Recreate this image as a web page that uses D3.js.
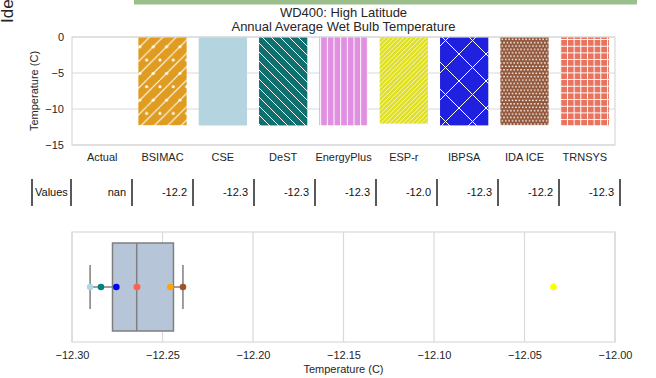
<!DOCTYPE html>
<html>
<head>
<meta charset="utf-8">
<script src="https://cdn.jsdelivr.net/npm/d3@7"></script>
<style>
  body { margin: 0; background: #fff; }
  svg { display: block; font-family: "Liberation Sans", Arial, sans-serif; }
</style>
</head>
<body>
<svg id="chart" width="656" height="378"></svg>
<script>
// data
var categories = ["Actual", "BSIMAC", "CSE", "DeST", "EnergyPlus", "ESP-r", "IBPSA", "IDA ICE", "TRNSYS"]
var values = [NaN, -12.2457, -12.290, -12.284, -12.2645, -12.034, -12.2755, -12.2387, -12.264]
var yTicks = [0, -5, -10, -15]
var xTicks = [-12.30, -12.25, -12.20, -12.15, -12.10, -12.05, -12.00]

// one colour per program (Actual has none)
var colors = [null, "orange", "lightblue", "teal", "violet", "yellow", "blue", "sienna", "tomato"]

function desat(c, p) {
  var h = d3.hsl(c)
  h.s = h.s * p
  return h.formatHex()
}

var SVG = d3.select("#chart")
var ink = "#262626"
var gridCol = "#d9d9d9"

// ---------- hatch patterns ----------
var defs = SVG.append("defs")
function hatch(id, fill, w, h, draw) {
  var p = defs.append("pattern")
    .attr("id", id)
    .attr("patternUnits", "userSpaceOnUse")
    .attr("width", w).attr("height", h)
  p.append("rect").attr("width", w).attr("height", h).attr("fill", fill)
  draw(p, w, h)
}
function slash(p, w, h, s, sw) {
  var d = ""
  for (var x0 = -h; x0 <= w; x0 += s) d += "M" + x0 + "," + h + "L" + (x0 + h) + ",0"
  p.append("path").attr("d", d).attr("stroke", "#fff").attr("stroke-width", sw)
}
function back(p, w, h, s, sw) {
  var d = ""
  for (var x0 = -h; x0 <= w; x0 += s) d += "M" + x0 + ",0L" + (x0 + h) + "," + h
  p.append("path").attr("d", d).attr("stroke", "#fff").attr("stroke-width", sw)
}

var fills = colors.map(function(c) { return c ? desat(c, 0.75) : null })

hatch("h1", fills[1], 13.33, 26.67, function(p, w, h) {
  slash(p, w, h, w, 1)
  p.selectAll("circle").data([[0, w / 2], [w, w / 2], [w / 2, w * 1.5]]).enter()
    .append("circle").attr("cx", function(d) { return d[0] }).attr("cy", function(d) { return d[1] })
    .attr("r", 1.5).attr("fill", "#fff")
})
hatch("h3", fills[3], 9, 9, function(p, w, h) { back(p, w, h, 9, 1) })
hatch("h4", fills[4], 6.67, 10, function(p, w, h) {
  p.append("path").attr("d", "M0.5,0V" + h).attr("stroke", "#fff").attr("stroke-width", 1)
})
hatch("h5", fills[5], 4.5, 4.5, function(p, w, h) { slash(p, w, h, 4.5, 0.8) })
hatch("h6", fills[6], 27, 27, function(p, w, h) { slash(p, w, h, 27, 1); back(p, w, h, 27, 1) })
hatch("h7", fills[7], 3.4, 6.8, function(p, w, h) {
  p.selectAll("circle").data([[0.85, 1.7], [2.55, 5.1]]).enter()
    .append("circle").attr("cx", function(d) { return d[0] }).attr("cy", function(d) { return d[1] })
    .attr("r", 0.85).attr("fill", "#fff")
})
hatch("h8", fills[8], 6.67, 6.67, function(p, w, h) {
  p.append("path").attr("d", "M0.5,0V" + h + "M0," + (h - 0.5) + "H" + w)
    .attr("stroke", "#fff").attr("stroke-width", 1)
})
var patterns = [null, "url(#h1)", fills[2], "url(#h3)", "url(#h4)", "url(#h5)", "url(#h6)", "url(#h7)", "url(#h8)"]

// ---------- top strip & titles ----------
SVG.append("rect").attr("x", 134).attr("y", 0).attr("width", 503).attr("height", 4.5).attr("fill", "#9bbf8b")

SVG.append("text")
  .attr("transform", "translate(13,23) rotate(-90)")
  .attr("font-size", 17).attr("fill", ink)
  .text("Ide")

SVG.append("text").attr("x", 343.5).attr("y", 17).attr("text-anchor", "middle")
  .attr("font-size", 13).attr("fill", ink).text("WD400: High Latitude")
SVG.append("text").attr("x", 343.5).attr("y", 31).attr("text-anchor", "middle")
  .attr("font-size", 13).attr("fill", ink).text("Annual Average Wet Bulb Temperature")

// ---------- bar chart ----------
var x = d3.scaleBand().domain(categories).range([72, 615])
var y = d3.scaleLinear().domain([-15, 0]).range([145, 37])

var gTop = SVG.append("g")
gTop.selectAll("line.grid").data(yTicks).enter().append("line")
  .attr("x1", 72).attr("x2", 615)
  .attr("y1", function(d) { return y(d) }).attr("y2", function(d) { return y(d) })
  .attr("stroke", gridCol).attr("stroke-width", 1.2)

var idx = d3.range(categories.length).filter(function(i) { return !isNaN(values[i]) })
gTop.selectAll("rect.bar").data(idx).enter().append("rect")
  .attr("x", function(i) { return x(categories[i]) + x.bandwidth() * 0.1 })
  .attr("width", x.bandwidth() * 0.8)
  .attr("y", y(0))
  .attr("height", function(i) { return y(values[i]) - y(0) })
  .attr("fill", function(i) { return patterns[i] })

gTop.append("rect").attr("x", 72).attr("y", 37).attr("width", 543).attr("height", 108)
  .attr("fill", "none").attr("stroke", gridCol).attr("stroke-width", 1.2)

var yAxis = gTop.append("g").attr("transform", "translate(72,0)")
  .call(d3.axisLeft(y).tickValues(yTicks).tickSize(0).tickPadding(8).tickFormat(function(d) { return d3.format("d")(d).replace("-", "\u2212") }))
yAxis.select(".domain").remove()
yAxis.selectAll("text").attr("font-size", 11).attr("fill", ink).attr("font-family", null)

var xAxis = gTop.append("g").attr("transform", "translate(0,145)")
  .call(d3.axisBottom(x).tickSize(0).tickPadding(8))
xAxis.select(".domain").remove()
xAxis.selectAll("text").attr("font-size", 11).attr("fill", ink).attr("font-family", null)

SVG.append("text").attr("transform", "translate(38,91) rotate(-90)")
  .attr("text-anchor", "middle").attr("font-size", 11).attr("fill", ink).text("Temperature (C)")

// ---------- table ----------
var tx = d3.scaleBand().domain(categories).range([71, 620])
var table = SVG.append("g").attr("font-family", "'Liberation Sans Narrow', 'Liberation Sans', Arial, sans-serif")
var edges = [32].concat(categories.map(function(c) { return tx(c) })).concat([620])
table.selectAll("line").data(edges).enter().append("line")
  .attr("x1", function(d) { return d }).attr("x2", function(d) { return d })
  .attr("y1", 179).attr("y2", 206)
  .attr("stroke", "#222").attr("stroke-width", 1.5)
table.append("text").attr("x", 35).attr("y", 196).attr("font-size", 11).attr("fill", "#111").text("Values")
table.selectAll("text.val").data(values).enter().append("text")
  .attr("class", "val")
  .attr("x", function(d, i) { return tx(categories[i]) + tx.bandwidth() - 6 })
  .attr("y", 196).attr("text-anchor", "end").attr("font-size", 11).attr("fill", "#111")
  .text(function(d) { return isNaN(d) ? "nan" : d.toFixed(1) })

// ---------- box plot ----------
var bx = d3.scaleLinear().domain([-12.30, -12.00]).range([72, 615])
var by = d3.scaleBand().domain(["all"]).range([232, 342])
var bot = SVG.append("g")

bot.selectAll("line.grid").data(xTicks).enter().append("line")
  .attr("x1", function(d) { return bx(d) }).attr("x2", function(d) { return bx(d) })
  .attr("y1", 232).attr("y2", 342)
  .attr("stroke", gridCol).attr("stroke-width", 1.2)
bot.append("rect").attr("x", 72).attr("y", 232).attr("width", 543).attr("height", 110)
  .attr("fill", "none").attr("stroke", gridCol).attr("stroke-width", 1.2)

var vals = values.filter(function(v) { return !isNaN(v) }).sort(d3.ascending)
var q1 = d3.quantile(vals, 0.25), med = d3.quantile(vals, 0.5), q3 = d3.quantile(vals, 0.75)
var iqr = q3 - q1
var inside = vals.filter(function(v) { return v >= q1 - 1.5 * iqr && v <= q3 + 1.5 * iqr })
var lo = d3.min(inside), hi = d3.max(inside)
var fliers = vals.filter(function(v) { return v < q1 - 1.5 * iqr || v > q3 + 1.5 * iqr })

var cy = by("all") + by.bandwidth() / 2
var bh = by.bandwidth() * 0.8
var boxCol = "#7f7f7f"
bot.append("line").attr("x1", bx(lo)).attr("x2", bx(q1)).attr("y1", cy).attr("y2", cy).attr("stroke", boxCol).attr("stroke-width", 1.5)
bot.append("line").attr("x1", bx(q3)).attr("x2", bx(hi)).attr("y1", cy).attr("y2", cy).attr("stroke", boxCol).attr("stroke-width", 1.5)
bot.selectAll("line.cap").data([lo, hi]).enter().append("line")
  .attr("x1", function(d) { return bx(d) }).attr("x2", function(d) { return bx(d) })
  .attr("y1", cy - bh / 4).attr("y2", cy + bh / 4)
  .attr("stroke", boxCol).attr("stroke-width", 1.5)
bot.append("rect").attr("x", bx(q1)).attr("y", cy - bh / 2).attr("width", bx(q3) - bx(q1)).attr("height", bh)
  .attr("fill", desat("lightsteelblue", 0.75)).attr("stroke", boxCol).attr("stroke-width", 1.5)
bot.append("line").attr("x1", bx(med)).attr("x2", bx(med)).attr("y1", cy - bh / 2).attr("y2", cy + bh / 2)
  .attr("stroke", boxCol).attr("stroke-width", 1.5)
bot.selectAll("path.flier").data(fliers).enter().append("path")
  .attr("d", "M0,-3.8L2.3,0L0,3.8L-2.3,0Z")
  .attr("transform", function(d) { return "translate(" + bx(d) + "," + cy + ")" })
  .attr("fill", boxCol)

bot.selectAll("circle.pt").data(idx).enter().append("circle")
  .attr("cx", function(i) { return bx(values[i]) })
  .attr("cy", cy)
  .attr("r", 3.3)
  .attr("fill", function(i) { return colors[i] })

var bAxis = bot.append("g").attr("transform", "translate(0,342)")
  .call(d3.axisBottom(bx).tickValues(xTicks).tickSize(0).tickPadding(9).tickFormat(function(d) { return d3.format(".2f")(d).replace("-", "\u2212") }))
bAxis.select(".domain").remove()
bAxis.selectAll("text").attr("font-size", 11).attr("fill", ink).attr("font-family", null)

SVG.append("text").attr("x", 343.5).attr("y", 373).attr("text-anchor", "middle")
  .attr("font-size", 11).attr("fill", ink).text("Temperature (C)")
</script>
</body>
</html>
